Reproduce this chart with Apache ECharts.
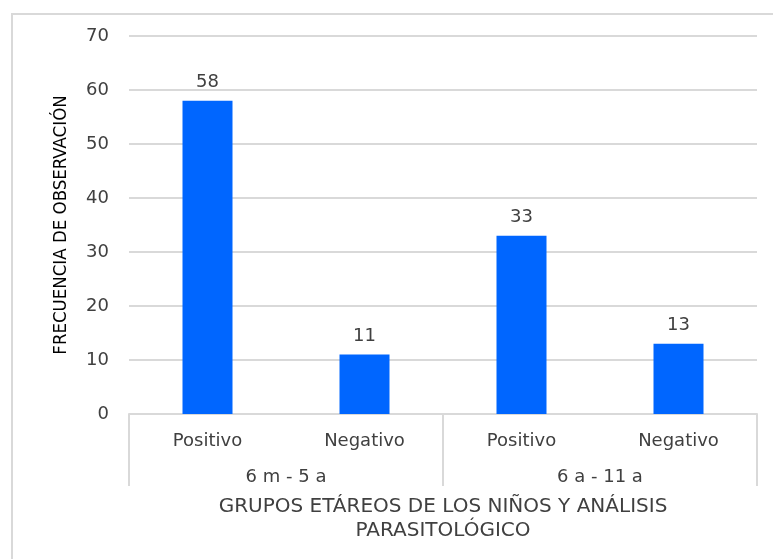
<!DOCTYPE html>
<html>
<head>
<meta charset="utf-8">
<script src="https://cdn.jsdelivr.net/npm/echarts@6/dist/echarts.min.js"></script>
<style>
  html, body { margin: 0; padding: 0; background: #fff; }
  #chart { width: 773px; height: 559px; }
</style>
</head>
<body>
<div id="chart"></div>
<script>
// datos del gráfico
const resultados = ["Positivo", "Negativo", "Positivo", "Negativo"];
const gruposEdad = ["6 m - 5 a", "6 a - 11 a"];
const frecuencias = [58, 11, 33, 13];
const yTicks = { min: 0, max: 70, interval: 10 };

const fuente = "DejaVu Sans";
const fuenteEstrecha = "'Liberation Sans Narrow', 'DejaVu Sans Condensed', sans-serif";
const gris = "#404040";
const lineaGris = "#d9d9d9";

const chart = echarts.init(document.getElementById("chart"));

const option = {
  animation: false,
  backgroundColor: "#fff",
  textStyle: { fontFamily: fuente },
  grid: { left: 129, right: 16, top: 36, bottom: 145 },
  // marco exterior
  graphic: [
    {
      type: "rect",
      shape: { x: 12, y: 14, width: 775, height: 560 },
      style: { fill: "none", stroke: lineaGris, lineWidth: 2 },
      silent: true,
    },
  ],
  xAxis: [
    {
      type: "category",
      data: resultados,
      axisLine: { lineStyle: { color: lineaGris, width: 2 } },
      axisTick: { show: false },
      axisLabel: { color: gris, fontSize: 18, margin: 18, fontFamily: fuente },
    },
    {
      type: "category",
      data: gruposEdad,
      position: "bottom",
      axisLine: { show: false },
      axisTick: { show: true, length: 72, lineStyle: { color: lineaGris, width: 2 } },
      axisLabel: { color: gris, fontSize: 18, margin: 54, fontFamily: fuente },
      name: "GRUPOS ETÁREOS DE LOS NIÑOS Y ANÁLISIS\nPARASITOLÓGICO",
      nameLocation: "middle",
      nameGap: 81,
      nameTextStyle: { color: gris, fontSize: 20, lineHeight: 24, fontFamily: fuente },
    },
  ],
  yAxis: {
    type: "value",
    min: yTicks.min,
    max: yTicks.max,
    interval: yTicks.interval,
    axisLine: { show: false },
    axisTick: { show: false },
    axisLabel: { color: gris, fontSize: 18, margin: 20, fontFamily: fuente },
    splitLine: { lineStyle: { color: lineaGris, width: 2 } },
    name: "FRECUENCIA DE OBSERVACIÓN",
    nameLocation: "middle",
    nameGap: 58,
    nameRotate: 90,
    nameTextStyle: { color: "#000", fontSize: 18.5, fontFamily: fuenteEstrecha },
  },
  series: [
    {
      type: "bar",
      data: frecuencias,
      barWidth: 50,
      itemStyle: { color: "#0066ff" },
      label: {
        show: true,
        position: "top",
        distance: 9,
        color: gris,
        fontSize: 18,
        fontFamily: fuente,
      },
    },
  ],
};

chart.setOption(option);
</script>
</body>
</html>
